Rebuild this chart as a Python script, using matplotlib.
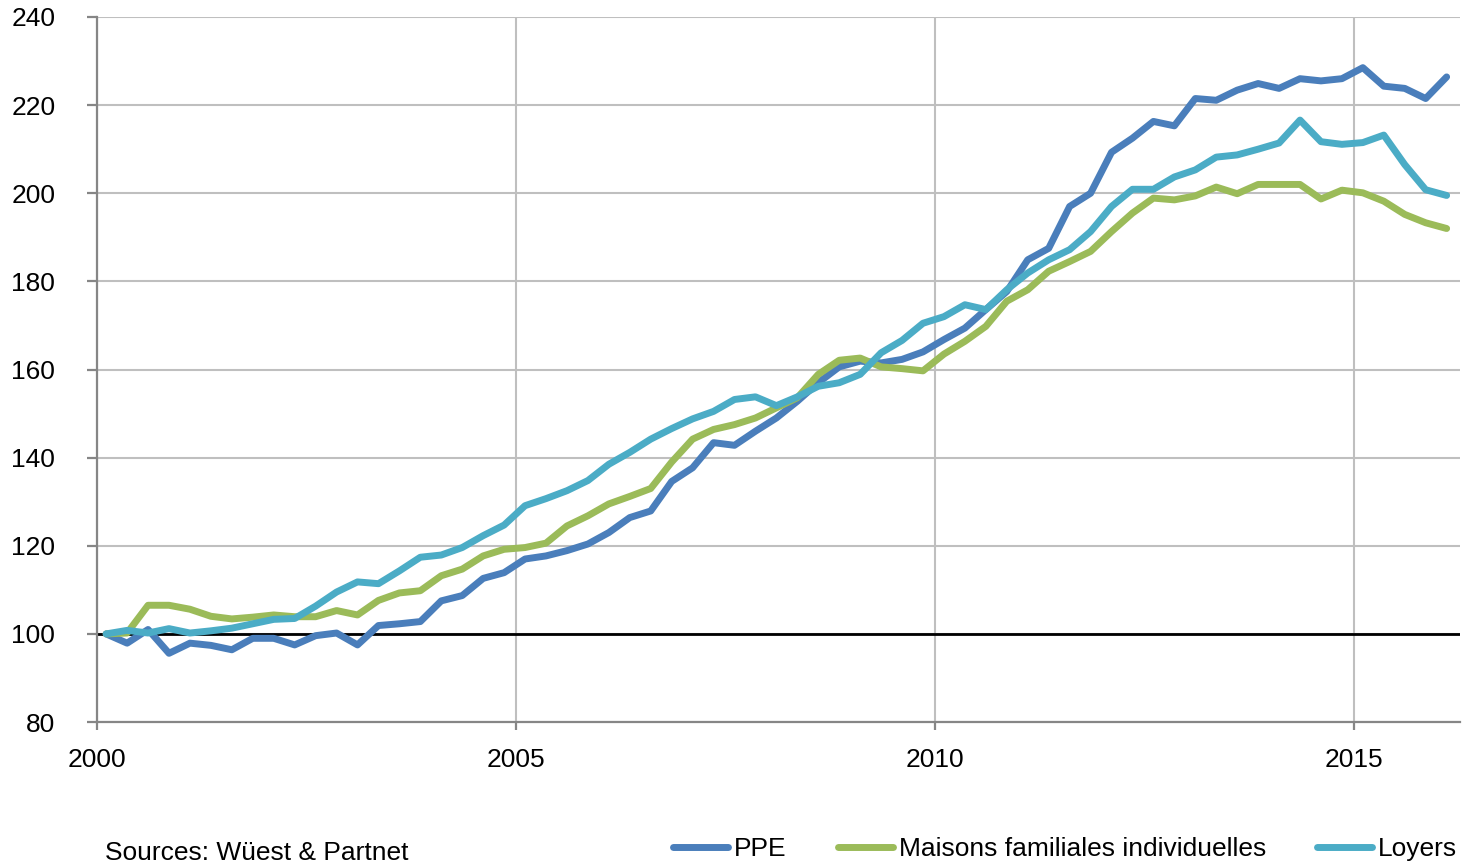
import numpy as np
import pandas as pd
import matplotlib
matplotlib.use("Agg")
import matplotlib.pyplot as plt

plt.rcParams['font.family'] = ['Liberation Sans', 'DejaVu Sans']

## Quarterly index, 2000 Q1 = 100
quarters = pd.period_range('2000Q1', '2016Q1', freq='Q')

ppe = [100.0, 97.9, 101.0, 95.6, 97.9, 97.4, 96.4, 99.0, 99.0, 97.5,
       99.6, 100.2, 97.5, 101.9, 102.3, 102.8, 107.5, 108.7, 112.6, 113.9,
       117.0, 117.7, 118.9, 120.4, 123.0, 126.4, 127.9, 134.6, 137.7, 143.4,
       142.8, 146.0, 149.0, 152.8, 157.0, 160.6, 161.9, 161.5, 162.3, 164.0,
       166.8, 169.4, 173.6, 177.7, 184.9, 187.5, 197.0, 200.0, 209.3, 212.5,
       216.3, 215.3, 221.5, 221.1, 223.4, 224.9, 223.8, 226.0, 225.5, 226.0,
       228.5, 224.3, 223.8, 221.5, 226.4]

maisons = [100.0, 100.2, 106.5, 106.5, 105.6, 104.0, 103.4, 103.8, 104.3, 103.9,
           103.9, 105.3, 104.3, 107.6, 109.3, 109.8, 113.2, 114.7, 117.7, 119.2,
           119.6, 120.6, 124.5, 126.8, 129.5, 131.2, 133.0, 139.0, 144.2, 146.4,
           147.5, 149.0, 151.3, 153.6, 158.9, 162.1, 162.6, 160.6, 160.2, 159.7,
           163.5, 166.4, 169.8, 175.5, 178.1, 182.3, 184.5, 186.8, 191.3, 195.5,
           198.9, 198.5, 199.4, 201.4, 199.9, 202.0, 202.0, 202.0, 198.7, 200.7,
           200.1, 198.2, 195.2, 193.3, 192.0]

loyers = [100.0, 100.8, 100.2, 101.2, 100.2, 100.7, 101.3, 102.3, 103.3, 103.5,
          106.3, 109.5, 111.8, 111.4, 114.3, 117.4, 117.9, 119.6, 122.3, 124.7,
          129.1, 130.7, 132.5, 134.8, 138.5, 141.2, 144.2, 146.6, 148.8, 150.5,
          153.2, 153.8, 151.8, 153.8, 156.2, 157.0, 158.9, 163.8, 166.6, 170.5,
          172.0, 174.7, 173.6, 178.1, 181.9, 184.9, 187.2, 191.3, 197.0, 200.9,
          200.9, 203.7, 205.3, 208.2, 208.7, 210.0, 211.4, 216.6, 211.7, 211.1,
          211.5, 213.2, 206.5, 200.8, 199.5]

series_names = ['PPE', 'Maisons familiales individuelles', 'Loyers']
series_colors = ['#4A7EBB', '#9BBB59', '#4BACC6']

## decimal years, points placed a bit after quarter start
x = quarters.year + (quarters.quarter - 1) / 4 + 0.11

fig = plt.figure(figsize=(14.69, 8.67), dpi=100)
ax = fig.add_axes([0.066, 0.1672, 0.9279, 0.8132])

for vals, name, col in zip([ppe, maisons, loyers], series_names, series_colors):
    ax.plot(x, vals, color=col, linewidth=5, label=name,
            solid_joinstyle='round', solid_capstyle='round', zorder=3)

## base line at 100
ax.axhline(100, color='black', linewidth=2, zorder=2)

ax.set_xlim(2000, 2016.27)
ax.set_ylim(80, 240)
ax.set_xticks([2000, 2005, 2010, 2015])
ax.set_yticks(np.arange(80, 241, 20))

ax.grid(True, color='#BFBFBF', linewidth=1.5, zorder=0)
ax.set_axisbelow(True)

for s in ['top', 'right']:
    ax.spines[s].set_visible(False)
for s in ['left', 'bottom']:
    ax.spines[s].set_color('#868686')
    ax.spines[s].set_linewidth(1.6)

ax.tick_params(axis='y', length=7, width=1.6, color='#868686', pad=23, labelsize=19)
ax.tick_params(axis='x', length=6, width=1.6, color='#868686', pad=13, labelsize=19)

fig.legend(loc='center right', bbox_to_anchor=(1457 / 1469, 1 - 849 / 867),
           ncol=3, frameon=False, fontsize=19, handlelength=2.08,
           handletextpad=0.23, columnspacing=1.93, borderpad=0, borderaxespad=0)

fig.text(105 / 1469, 1 - 853 / 867, 'Sources: Wüest & Partnet', fontsize=19,
         ha='left', va='center')

fig.savefig('out.png', dpi=100)
